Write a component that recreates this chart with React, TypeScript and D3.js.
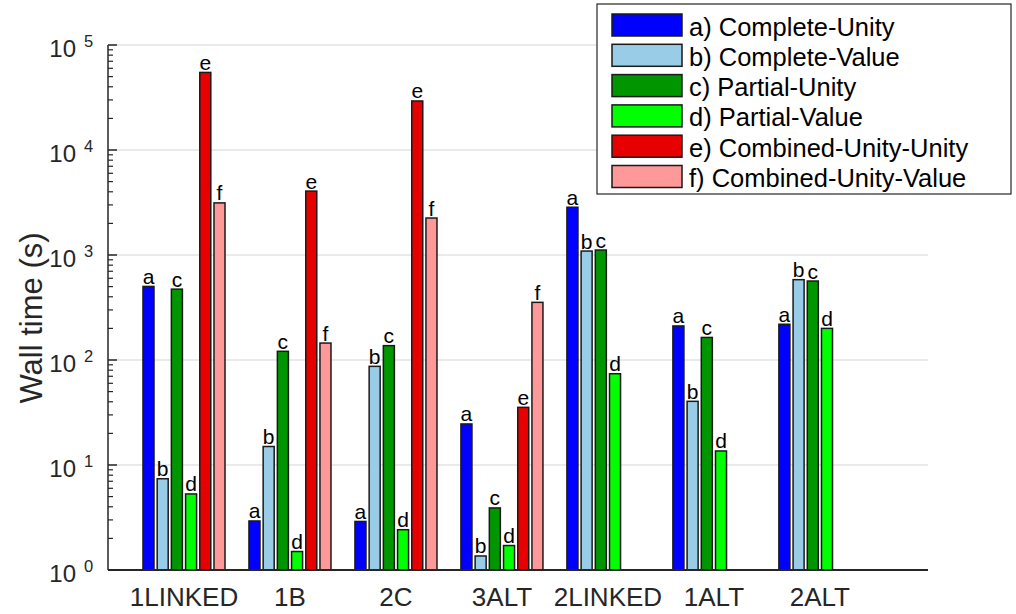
import React from "react";
import * as d3 from "d3";

const categories = ["1LINKED", "1B", "2C", "3ALT", "2LINKED", "1ALT", "2ALT"];
const seriesKeys = ["a", "b", "c", "d", "e", "f"];
const seriesNames = [
  "a) Complete-Unity",
  "b) Complete-Value",
  "c) Partial-Unity",
  "d) Partial-Value",
  "e) Combined-Unity-Unity",
  "f) Combined-Unity-Value",
];
const seriesColors = ["#0000ff", "#99cce6", "#009600", "#00ff00", "#e60000", "#ff9999"];

// values per series, indexed by category (null = no bar)
const valuesA = [502, 2.93, 2.9, 24.6, 2850, 211, 219];
const valuesB = [7.4, 15.0, 87, 1.36, 1090, 40.4, 582];
const valuesC = [473, 121, 137, 3.9, 1115, 164, 565];
const valuesD = [5.3, 1.5, 2.42, 1.71, 74, 13.6, 200];
const valuesE = [54800, 4060, 29300, 35.4, null, null, null];
const valuesF = [3135, 145, 2250, 354, null, null, null];
const seriesValues = [valuesA, valuesB, valuesC, valuesD, valuesE, valuesF];

const yTickExponents = [0, 1, 2, 3, 4, 5];

const W = 1016;
const H = 614;
const plotLeft = 108;
const plotRight = 928;
const plotTop = 45;
const plotBottom = 570;
const font = "'Liberation Sans', Arial, Helvetica, sans-serif";
const axisColor = "#262626";

export default function App() {
  const x = d3.scaleLinear().domain([0.283, 8.02]).range([plotLeft, plotRight]);
  const y = d3.scaleLog().domain([1, 1e5]).range([plotBottom, plotTop]);
  const unit = x(2) - x(1);
  const stride = 0.134 * unit;
  const barW = 0.104 * unit;

  const minorTicks: number[] = [];
  for (let e = 0; e < 5; e++) {
    for (let m = 2; m <= 9; m++) minorTicks.push(m * Math.pow(10, e));
  }

  return (
    <svg width={W} height={H} style={{ position: "absolute", left: 0, top: 0, background: "#fff" }} fontFamily={font}>
      <rect x={0} y={0} width={W} height={H} fill="#fff" />
      {/* gridlines */}
      {yTickExponents.map((e) => (
        <line key={"g" + e} x1={plotLeft} x2={plotRight} y1={y(Math.pow(10, e))} y2={y(Math.pow(10, e))} stroke="#e3e3e3" strokeWidth={1.5} />
      ))}
      {/* bars */}
      {categories.map((cat, ci) =>
        seriesValues.map((vals, si) => {
          const v = vals[ci];
          if (v == null) return null;
          const cx = x(ci + 1) + (si - 2.5) * stride;
          const top = y(v);
          return (
            <g key={cat + si}>
              <rect x={cx - barW / 2} y={top} width={barW} height={plotBottom - top} fill={seriesColors[si]} stroke="#1a1a1a" strokeWidth={1.5} />
              <text x={cx} y={top - 2.5} textAnchor="middle" fontSize={21} fill="#000">{seriesKeys[si]}</text>
            </g>
          );
        })
      )}
      {/* axes */}
      <line x1={plotLeft} x2={plotLeft} y1={plotTop} y2={plotBottom} stroke={axisColor} strokeWidth={1.5} />
      <line x1={plotLeft} x2={plotRight} y1={plotBottom} y2={plotBottom} stroke={axisColor} strokeWidth={2} />
      {yTickExponents.map((e) => (
        <line key={"t" + e} x1={plotLeft} x2={plotLeft + 9} y1={y(Math.pow(10, e))} y2={y(Math.pow(10, e))} stroke={axisColor} strokeWidth={1.5} />
      ))}
      {minorTicks.map((m) => (
        <line key={"m" + m} x1={plotLeft} x2={plotLeft + 5} y1={y(m)} y2={y(m)} stroke={axisColor} strokeWidth={1.2} />
      ))}
      {yTickExponents.map((e) => (
        <text key={"l" + e} x={76} y={y(Math.pow(10, e)) + 12} textAnchor="end" fontSize={24} fill={axisColor}>
          10
        </text>
      ))}
      {yTickExponents.map((e) => (
        <text key={"s" + e} x={84} y={y(Math.pow(10, e)) + 2} textAnchor="start" fontSize={16.5} fill={axisColor}>
          {e}
        </text>
      ))}
      {categories.map((cat, ci) => (
        <text key={"x" + cat} x={x(ci + 1)} y={606} textAnchor="middle" fontSize={26} fill={axisColor}>
          {cat}
        </text>
      ))}
      <text transform={`translate(42,318) rotate(-90)`} textAnchor="middle" fontSize={31} fill={axisColor}>
        Wall time (s)
      </text>
      {/* legend */}
      <rect x={597} y={4} width={414} height={190} fill="#fff" stroke={axisColor} strokeWidth={1.2} />
      {seriesNames.map((name, si) => (
        <g key={"lg" + si}>
          <rect x={612} y={14 + si * 30.3} width={70} height={22} fill={seriesColors[si]} stroke="#1a1a1a" strokeWidth={1.5} />
          <text x={689} y={35.5 + si * 30.3} fontSize={25.5} fill="#000">{name}</text>
        </g>
      ))}
    </svg>
  );
}
